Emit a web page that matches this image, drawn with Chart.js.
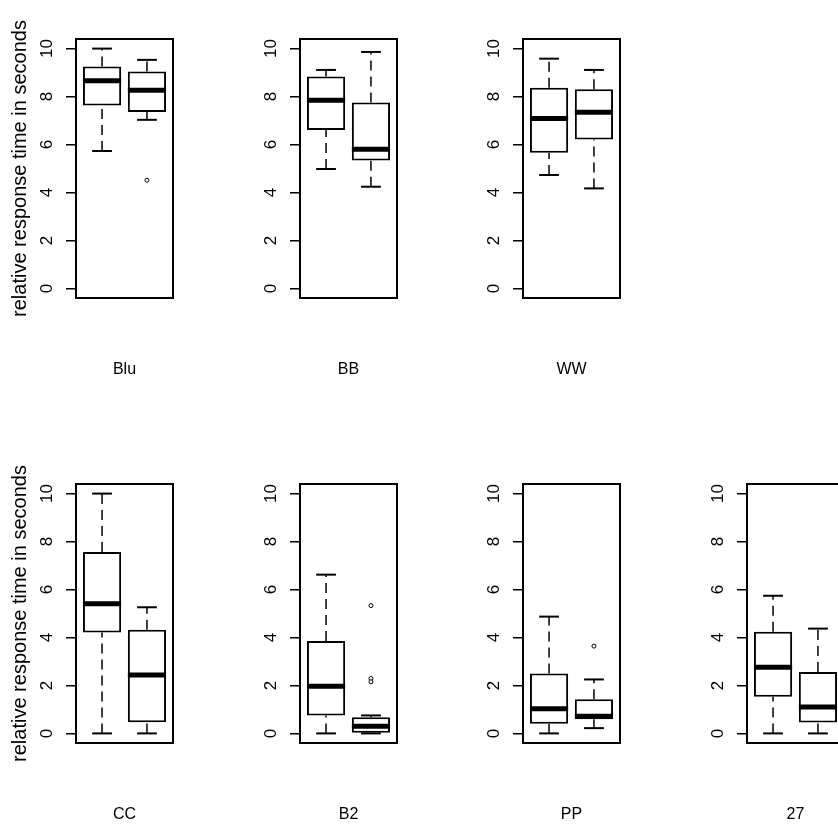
<!DOCTYPE html>
<html>
<head>
<meta charset="utf-8">
<script src="https://cdn.jsdelivr.net/npm/chart.js@4/dist/chart.umd.min.js"></script>
<style>
html, body { margin: 0; padding: 0; background: #fff; overflow: hidden; }
body { width: 838px; height: 824px; position: relative; }
canvas { position: absolute; }
</style>
</head>
<body>
<script>
const groups = ['Blu', 'BB', 'WW', 'CC', 'B2', 'PP', '27'];

// first box in each panel
const lowA  = [5.73, 4.98, 4.73, 0,    0,    0,    0];
const q1A   = [7.63, 6.61, 5.66, 4.21, 0.75, 0.40, 1.53];
const medA  = [8.66, 7.85, 7.08, 5.41, 1.97, 1.03, 2.76];
const q3A   = [9.25, 8.84, 8.37, 7.56, 3.85, 2.50, 4.24];
const highA = [10.0, 9.11, 9.58, 10.0, 6.62, 4.87, 5.74];
const outA  = [[], [], [], [], [], [], []];

// second box in each panel
const lowB  = [7.03, 4.24, 4.17, 0,    0,    0.22, 0];
const q1B   = [7.36, 5.33, 6.21, 0.47, 0,    0.59, 0.46];
const medB  = [8.26, 5.80, 7.35, 2.44, 0.30, 0.72, 1.10];
const q3B   = [9.05, 7.75, 8.30, 4.32, 0.67, 1.42, 2.56];
const highB = [9.53, 9.86, 9.11, 5.26, 0.75, 2.25, 4.37];
const outB  = [[4.51], [], [], [], [5.33, 2.29, 2.15], [3.64], []];

const yTicks = [0, 2, 4, 6, 8, 10];
const yTitle = 'relative response time in seconds';

// [row, col] of each panel in the 2 x 4 grid
const slots = [[0, 0], [0, 1], [0, 2], [1, 0], [1, 1], [1, 2], [1, 3]];

Chart.defaults.font.family = '"Liberation Sans", Arial, sans-serif';
Chart.defaults.font.size = 16;
Chart.defaults.color = '#000';

const boxHalf = 0.425;   // half box width, x units
const stapleHalf = 0.22;

// box round the plot region, like R's box()
const frame = {
    id: 'frame',
    afterDatasetsDraw(chart) {
        const a = chart.chartArea;
        const ctx = chart.ctx;
        ctx.save();
        ctx.strokeStyle = '#000';
        ctx.lineWidth = 2;
        ctx.strokeRect(a.left, a.top, a.right - a.left, a.bottom - a.top);
        ctx.restore();
    }
};

function seg(x0, y0, x1, y1, width, dash) {
    return {
        type: 'line',
        data: [{x: x0, y: y0}, {x: x1, y: y1}],
        borderColor: '#000',
        borderWidth: width,
        borderDash: dash || [],
        pointRadius: 0,
        fill: false,
        order: 0
    };
}

function boxSets(i) {
    const stats = [
        [lowA[i], q1A[i], medA[i], q3A[i], highA[i]],
        [lowB[i], q1B[i], medB[i], q3B[i], highB[i]]
    ];
    const sets = [{
        type: 'bar',
        data: stats.map((s, k) => ({x: k + 1, y: [s[1], s[3]]})),
        backgroundColor: '#fff',
        borderColor: '#000',
        borderWidth: 2,
        borderSkipped: false,
        barPercentage: boxHalf * 2,
        categoryPercentage: 1,
        order: 2
    }];
    stats.forEach((s, k) => {
        const x = k + 1;
        sets.push(seg(x, s[0], x, s[1], 1.5, [10, 6]));
        sets.push(seg(x, s[3], x, s[4], 1.5, [10, 6]));
        sets.push(seg(x - stapleHalf, s[0], x + stapleHalf, s[0], 2));
        sets.push(seg(x - stapleHalf, s[4], x + stapleHalf, s[4], 2));
        sets.push(seg(x - boxHalf, s[2], x + boxHalf, s[2], 5));
    });
    sets.push({
        type: 'scatter',
        data: outA[i].map(v => ({x: 1, y: v})).concat(outB[i].map(v => ({x: 2, y: v}))),
        pointStyle: 'circle',
        pointRadius: 2,
        borderWidth: 1,
        borderColor: '#000',
        backgroundColor: '#fff',
        order: 0
    });
    return sets;
}

slots.forEach(([row, col], i) => {
    const cv = document.createElement('canvas');
    cv.width = 224;
    cv.height = 379;
    cv.style.left = Math.round(col * 223.7) + 'px';
    cv.style.top = (row * 445) + 'px';
    document.body.appendChild(cv);

    new Chart(cv, {
        type: 'bar',
        data: {datasets: boxSets(i)},
        options: {
            responsive: false,
            animation: false,
            devicePixelRatio: 1,
            layout: {padding: {top: 39, right: 51, bottom: 0, left: 0}},
            plugins: {legend: {display: false}, tooltip: {enabled: false}},
            scales: {
                x: {
                    type: 'linear',
                    min: 0.42,
                    max: 2.58,
                    offset: false,
                    afterBuildTicks: s => { s.ticks = [{value: 1}, {value: 2}]; },
                    afterFit: s => { s.height = 81; },
                    ticks: {display: false},
                    grid: {display: false},
                    border: {display: false},
                    title: {display: true, text: groups[i], padding: 0, font: {size: 16}}
                },
                y: {
                    min: -0.4,
                    max: 10.4,
                    afterBuildTicks: s => { s.ticks = yTicks.map(v => ({value: v})); },
                    afterFit: s => { s.width = 76; },
                    ticks: {minRotation: 90, maxRotation: 90, crossAlign: 'center', padding: 9, font: {size: 17}},
                    grid: {drawOnChartArea: false, drawTicks: true, tickLength: 10, color: '#000', lineWidth: 1.5},
                    border: {display: false},
                    title: {display: col === 0, text: yTitle, padding: {top: 8}, font: {size: 20}}
                }
            }
        },
        plugins: [frame]
    });
});
</script>
</body>
</html>
